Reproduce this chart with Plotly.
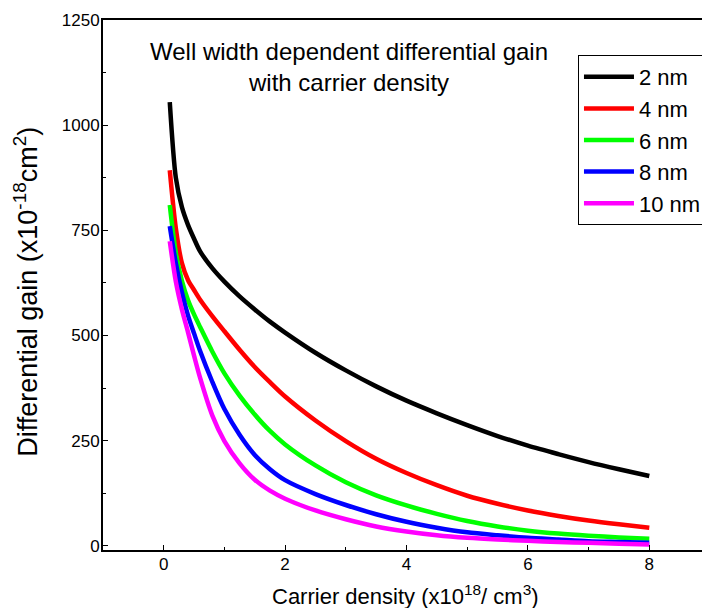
import plotly.graph_objects as go

x_grid = [0.1, 0.2, 0.3, 0.4, 0.5, 0.6, 0.8, 1.0, 1.25, 1.5, 1.75, 2.0, 2.5, 3.0,
          3.5, 4.0, 4.5, 5.0, 5.5, 6.0, 6.5, 7.0, 7.5, 8.0]

gain_2nm = [1055, 875, 805, 763, 730, 700, 660, 628, 593, 562, 533, 507, 459, 417,
            379, 345, 315, 287, 261, 238, 218, 199, 182, 166]
gain_4nm = [893, 755, 672, 632, 608, 585, 546, 510, 466, 425, 389, 355, 298, 249,
            207, 173, 144, 119, 100, 84, 71, 60, 51, 43]
gain_6nm = [810, 696, 630, 584, 550, 520, 462, 410, 357, 312, 273, 241, 191, 151,
            120, 96, 76, 59, 46, 36, 29, 24, 20, 17]
gain_8nm = [760, 672, 603, 548, 505, 463, 390, 325, 264, 216, 182, 156, 123, 97,
            75, 57, 43, 32, 25, 19, 15, 11, 9, 7]
gain_10nm = [724, 628, 562, 508, 452, 399, 310, 249, 196, 157, 131, 112, 84, 63,
             46, 34, 25, 19, 15, 12, 9, 7, 5, 3]

series_names = ["2 nm", "4 nm", "6 nm", "8 nm", "10 nm"]
series_values = [gain_2nm, gain_4nm, gain_6nm, gain_8nm, gain_10nm]
series_colors = ["#000000", "#ff0000", "#00ff00", "#0000ff", "#ff00ff"]

x_ticks = [0, 2, 4, 6, 8]
y_ticks = [0, 250, 500, 750, 1000, 1250]

title_text = "Well width dependent differential gain<br>with carrier density"
x_title = "Carrier density (x10<sup>18</sup>/ cm<sup>3</sup>)"
y_title = "Differential gain (x10<sup>-18</sup>cm<sup>2</sup>)"

FONT = "Arial, Liberation Sans, sans-serif"

fig = go.Figure()
for name, vals, col in zip(series_names, series_values, series_colors):
    fig.add_trace(go.Scatter(x=x_grid, y=vals, mode="lines", name=name,
                             line=dict(color=col, width=4.5, shape="spline",
                                       smoothing=0.8)))

# the figure runs slightly past the right edge of the window, like the reference
fig.update_layout(
    width=710, height=608,
    margin=dict(l=103, r=0, t=20, b=58),
    paper_bgcolor="white", plot_bgcolor="white",
    font=dict(family=FONT, color="black"),
    showlegend=True,
    legend=dict(x=0.7825, y=0.934, xanchor="left", yanchor="top",
                bgcolor="white", bordercolor="black", borderwidth=1,
                itemwidth=50,
                font=dict(size=22, family=FONT), tracegroupgap=0),
    annotations=[
        dict(text=title_text, x=0.406, y=0.912, xref="paper", yref="paper",
             showarrow=False, font=dict(size=24, family=FONT),
             xanchor="center", yanchor="middle", align="center"),
        dict(text=x_title, x=0.499, y=-0.085, xref="paper", yref="paper",
             showarrow=False, font=dict(size=22, family=FONT),
             xanchor="center", yanchor="middle"),
        dict(text=y_title, x=-0.127, y=0.487, xref="paper", yref="paper",
             showarrow=False, font=dict(size=27, family=FONT), textangle=-90,
             xanchor="center", yanchor="middle"),
    ],
)

fig.update_xaxes(
    range=[-1, 9], tickvals=x_ticks, showgrid=False, zeroline=False,
    showline=True, linecolor="black", linewidth=2, mirror=True,
    ticks="inside", ticklen=5, tickwidth=1, tickcolor="black",
    minor=dict(dtick=1, tick0=0, ticks="inside", ticklen=3, tickcolor="black"),
    tickfont=dict(size=17, family=FONT), ticklabelstandoff=-2,
    automargin=False,
)
fig.update_yaxes(
    range=[-10, 1250], tickvals=y_ticks, showgrid=False, zeroline=False,
    showline=True, linecolor="black", linewidth=2,
    ticks="inside", ticklen=5, tickwidth=1, tickcolor="black",
    minor=dict(dtick=125, tick0=0, ticks="inside", ticklen=3, tickcolor="black"),
    tickfont=dict(size=17, family=FONT), ticklabelstandoff=-2,
    automargin=False,
)

fig.write_html(
    "out.html",
    config={"displayModeBar": False},
    post_script="document.body.style.margin='0';"
                "document.body.style.overflow='hidden';"
                "document.documentElement.style.overflow='hidden';",
)
